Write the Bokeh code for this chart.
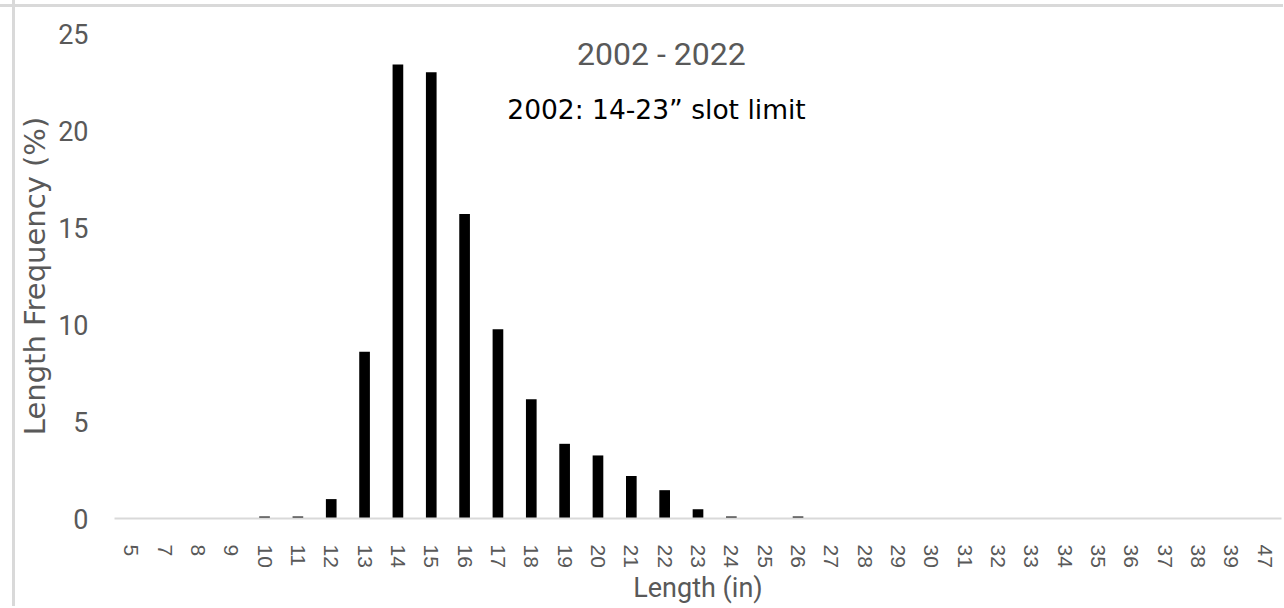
from bokeh.plotting import figure
from bokeh.models import Label, Spacer, FactorRange, Range1d, FixedTicker
from bokeh.layouts import row, column
from bokeh.embed import file_html
from bokeh.resources import INLINE

# ---- data ----
lengths = ["5", "7", "8", "9"] + [str(v) for v in range(10, 40)] + ["47"]
freq = [0, 0, 0, 0,            # 5, 7, 8, 9
        0.1, 0.1, 1.0, 8.6,     # 10, 11, 12, 13
        23.4, 23.0, 15.7, 9.75, # 14, 15, 16, 17
        6.15, 3.85, 3.25, 2.19, # 18, 19, 20, 21
        1.46, 0.48, 0.1, 0,     # 22, 23, 24, 25
        0.1,                    # 26
        0, 0, 0, 0, 0, 0, 0, 0, 0, 0, 0, 0, 0,  # 27-39
        0]                      # 47
y_ticks = [0, 5, 10, 15, 20, 25]
title_text = "2002 - 2022"
note_text = "2002: 14-23\u201d slot limit"
x_title = "Length (in)"
y_title = "Length Frequency (%)"

GREY = "#595959"
EDGE = "#d9d9d9"
SANS = "Roboto"
PH = 598

p = figure(x_range=FactorRange(factors=lengths), y_range=Range1d(0, 25),
           width=1268, height=PH, output_backend="svg", toolbar_location=None,
           min_border_left=96, min_border_right=2, min_border_top=25, min_border_bottom=85)
p.outline_line_color = None
p.xgrid.visible = False
p.ygrid.visible = False

p.vbar(x=lengths, top=freq, width=0.32, fill_color="black", line_color=None)

xa = p.xaxis[0]
xa.axis_line_color = EDGE
xa.axis_line_width = 2
xa.major_tick_line_color = None
xa.minor_tick_line_color = None
xa.major_label_orientation = "vertical"
xa.major_label_text_font = "Liberation Sans"
xa.major_label_text_font_size = "21px"
xa.major_label_text_color = GREY
xa.major_label_standoff = 20
xa.axis_label = x_title
xa.axis_label_text_font = SANS
xa.axis_label_text_font_size = "27px"
xa.axis_label_text_font_style = "normal"
xa.axis_label_text_color = GREY
xa.axis_label_standoff = 1

ya = p.yaxis[0]
ya.ticker = FixedTicker(ticks=y_ticks)
ya.axis_line_color = None
ya.major_tick_line_color = None
ya.minor_tick_line_color = None
ya.major_label_text_font = SANS
ya.major_label_text_font_size = "27px"
ya.major_label_text_color = GREY
ya.major_label_standoff = 20
ya.axis_label = y_title
ya.axis_label_text_font = "DejaVu Sans"
ya.axis_label_text_font_size = "29px"
ya.axis_label_text_font_style = "normal"
ya.axis_label_text_color = GREY
ya.axis_label_standoff = 3

p.add_layout(Label(x=16.4, y=23.92, text=title_text, text_align="center",
                   text_baseline="middle", text_font=SANS, text_font_size="32px",
                   text_color=GREY))
p.add_layout(Label(x=11.78, y=21.1, text=note_text, text_align="left",
                   text_baseline="middle", text_font="DejaVu Sans", text_font_size="26.5px",
                   text_color="black"))

vline = f"linear-gradient(to right, transparent 12px, {EDGE} 12px, {EDGE} 15px, transparent 15px)"
hline = f"linear-gradient(to bottom, transparent 4px, {EDGE} 4px, {EDGE} 7px, transparent 7px)"
top_strip = Spacer(width=1283, height=8, styles={"background": f"{vline}, {hline}"})
edge = Spacer(width=15, height=PH, styles={"background": vline})
layout = column(top_strip, row(edge, p, spacing=0), spacing=0)

open("out.html", "w").write(file_html(layout, INLINE))
